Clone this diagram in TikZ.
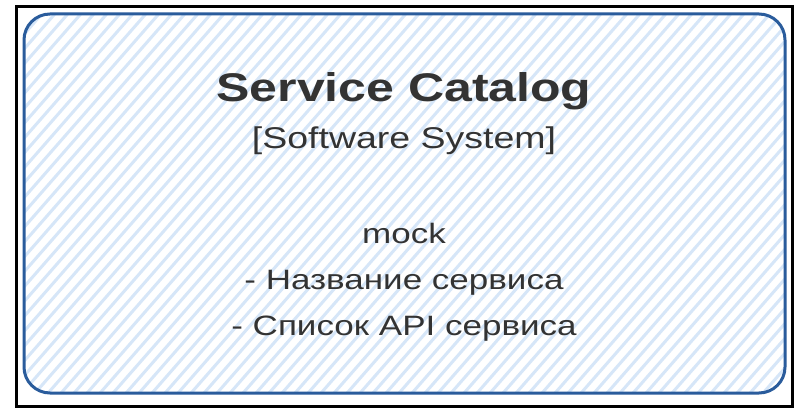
\documentclass[tikz,border=0pt]{standalone}
\usepackage{fontspec}
\setmainfont{Liberation Sans}
\usetikzlibrary{positioning}
\definecolor{sysblue}{RGB}{42,92,156}
\definecolor{hatchblue}{RGB}{214,230,248}
\definecolor{textgray}{RGB}{51,51,51}
\newcommand{\wide}[1]{\scalebox{1.25}[1]{#1}}

\begin{document}
\begin{tikzpicture}[x=1pt,y=-1pt,
		label/.style={text=textgray,inner sep=0pt,anchor=base},
		sysbox/.style={draw=sysblue,line width=3pt,rounded corners=26pt}]
				\useasboundingbox (0,0) rectangle (800,417);
				\fill[white] (0,0) rectangle (800,417);
				% hatched fill of the system box
				\begin{scope}
						\clip[rounded corners=26pt] (24,14) rectangle (785,393);
						\foreach \x in {-400,-387,...,800}
								\draw[hatchblue,line width=3pt] (\x,400) -- ++(350,-400);
				\end{scope}
				\node [draw=black,line width=3pt,minimum width=776pt,minimum height=399pt,inner sep=0pt] (frame) at (404,206.5) {};
				\node [sysbox,minimum width=761pt,minimum height=379pt,inner sep=0pt] (sys) at (404.5,203.5) {};
				\node [label,font=\bfseries\fontsize{40}{48}\selectfont] (title) at (404,102) {\wide{Service Catalog}};
				\node [label,font=\fontsize{30}{36}\selectfont] (kind) at ([yshift=-47pt]title.base) {\wide{[Software System]}};
				\node [label,font=\fontsize{28}{34}\selectfont] (mock) at ([yshift=-94pt]kind.base) {\wide{mock}};
				\node [label,font=\fontsize{28}{34}\selectfont] (item1) at ([yshift=-46pt]mock.base) {\wide{- Название сервиса}};
				\node [label,font=\fontsize{28}{34}\selectfont] (item2) at ([yshift=-46pt]item1.base) {\wide{- Список API сервиса}};
			\end{tikzpicture}
\end{document}
